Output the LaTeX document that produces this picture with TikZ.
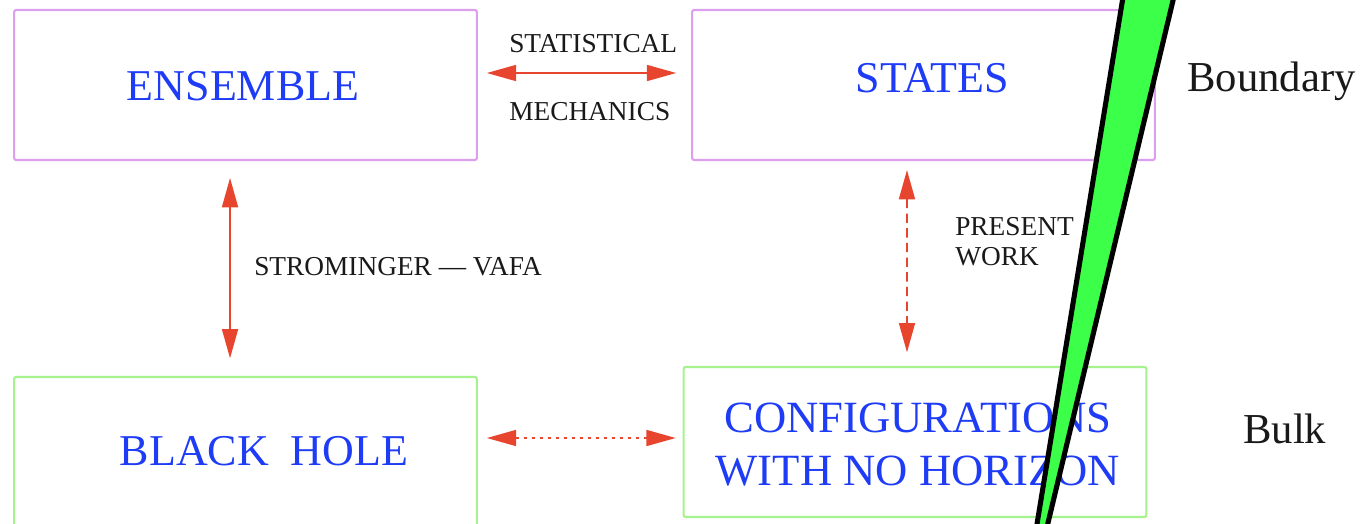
\documentclass[tikz,border=0pt]{standalone}
\usepackage{fontspec}
\setmainfont{Liberation Serif}
\usetikzlibrary{arrows.meta}
\definecolor{boxviolet}{HTML}{DC9FEE}
\definecolor{boxgreen}{HTML}{A6F28C}
\definecolor{titleblue}{HTML}{1E3CF5}
\definecolor{linkred}{HTML}{E8452E}
\definecolor{wedgegreen}{HTML}{3CFF4A}
\tikzset{
  panel/.style={draw, line width=1.6pt, rounded corners=1.5pt, inner sep=0pt, outer sep=0pt,
    minimum width=347pt, minimum height=112.5pt},
  upper/.style={panel, draw=boxviolet},
  lower/.style={panel, draw=boxgreen},
  title/.style={text=titleblue, font=\fontsize{33}{36}\selectfont, anchor=base, inner sep=0pt},
  note/.style={text=black!90, font=\fontsize{20.5}{23}\selectfont, anchor=base west, inner sep=0pt},
  side/.style={text=black!90, font=\fontsize{32}{36}\selectfont, anchor=base west, inner sep=0pt},
  link/.style={draw=linkred, line width=1.3pt,
    {Triangle[length=22pt,width=12pt]}-{Triangle[length=22pt,width=12pt]}},
}
\begin{document}
\begin{tikzpicture}[x=0.75pt,y=-0.75pt]
\useasboundingbox (0,0) rectangle (1363,524);
\clip (0,0) rectangle (1363,524);

% the four boxes
\node[upper] (ens) at (245.5,85) {};
\node[upper] (sta) at (923.5,85) {};
\node[lower] (bh)  at (245.5,452) {};
\node[lower] (cfg) at (915,442) {};

% box titles
\node[title] (ensT) at (243,101) {ENSEMBLE};
\node[title] (staT) at (932,93) {STATES};
\node[title] (bhT)  at (264,465) {BLACK\ \ HOLE};
\node[title, font=\fontsize{33.5}{36}\selectfont] (cfgA) at (918,432) {CONFIGURATIONS};
\node[title, font=\fontsize{33.5}{36}\selectfont] (cfgB) at (918,485) {WITH NO HORIZON};

% side labels
\node[side] (bnd)  at (1187,92) {Boundary};
\node[side] (bulk) at (1243,443) {Bulk};

% connectors
\draw[link] ([yshift=9pt,xshift=7.5pt]ens.east) -- ([yshift=9pt,xshift=-12pt]sta.west);
\node[note] (stat) at (509,53) {STATISTICAL};
\node[note] (mech) at (509,121) {MECHANICS};

\draw[link] ([xshift=-11.6pt,yshift=-13.5pt]ens.south) -- ([xshift=-11.6pt,yshift=14pt]bh.north);
\node[note] (sv) at (254,275) {STROMINGER --- VAFA};

\draw[link, dash pattern=on 7pt off 4pt] ([xshift=-12.4pt,yshift=-7.5pt]sta.south) -- ([xshift=-6pt,yshift=11pt]cfg.north);
\node[note] (pw1) at (955,235) {PRESENT};
\node[note] (pw2) at (955,265) {WORK};

\draw[link, dash pattern=on 2.5pt off 3.5pt] ([yshift=10.5pt,xshift=7.5pt]bh.east) -- ([yshift=3pt,xshift=-6pt]cfg.west);

% green wedge drawn over the diagram
\filldraw[fill=wedgegreen, draw=black, line width=3.8pt, line join=miter]
  (1124.5,-12) -- (1176,-12) -- (1014,665) -- cycle;
\end{tikzpicture}
\end{document}
